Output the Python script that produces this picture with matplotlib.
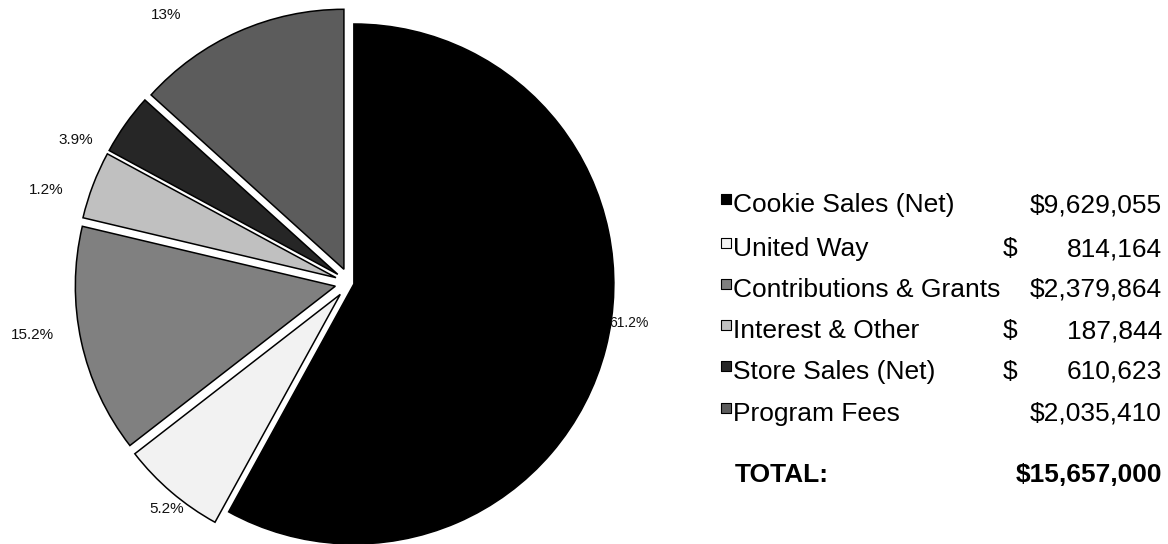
import matplotlib
matplotlib.use("Agg")
import matplotlib.pyplot as plt
import numpy as np

plt.rcParams['font.family'] = ['Liberation Sans', 'DejaVu Sans']

# ---- data ----
categories = ["Cookie Sales (Net)", "United Way", "Contributions & Grants",
              "Interest & Other", "Store Sales (Net)", "Program Fees"]
amount_labels = ["$9,629,055", "$   814,164", "$2,379,864", "$   187,844",
                 "$   610,623", "$2,035,410"]
# wedge shares as drawn in the picture (percent of circle)
wedge_shares = [58.0, 6.5, 14.2, 4.2, 3.8, 13.3]
pct_labels = ["61.2%", "5.2%", "15.2%", "1.2%", "3.9%", "13%"]
total_label = "$15,657,000"

# ---- style ----
colors = ["#000000", "#f2f2f2", "#808080", "#c0c0c0", "#262626", "#5c5c5c"]
# explode distances in pixels (pie explode is in data units)
explode_px = [4, 15, 15, 15, 15, 15]
# label placement tweaks: (angle offset deg, radius factor, ha, fontsize)
label_tweaks = [(5.7, 1.01, 'left', 10), (1.4, 1.118, 'center', 11),
                (-3.0, 1.238, 'center', 11), (3.9, 1.223, 'center', 11),
                (7.8, 1.188, 'center', 11), (10.5, 1.252, 'center', 11)]

W, H = 1168, 544
fig = plt.figure(figsize=(W / 100, H / 100), dpi=100)
ax = fig.add_axes([0, 0, 1, 1])


def P(x, y):
    return (x, H - y)


cx, cy, R = 350, 283, 260
center = P(cx, cy)
wedges, _ = ax.pie(wedge_shares, colors=colors, startangle=90, counterclock=False,
                   explode=explode_px, center=center, radius=R,
                   wedgeprops=dict(edgecolor='black', linewidth=1.1))

for w, lab, (doff, rf, ha, fs) in zip(wedges, pct_labels, label_tweaks):
    mid = np.deg2rad((w.theta1 + w.theta2) / 2 + doff)
    x = center[0] + rf * R * np.cos(mid)
    y = center[1] + rf * R * np.sin(mid)
    ax.text(x, y, lab, ha=ha, va='center', fontsize=fs, color='#111111')

# ---- legend table ----
row_y = [205, 249, 290, 331, 372, 414]
text_x = 733
amt_right = 1162
dollar_x = 1003
fs_leg = 19
for yy, name, amt, col in zip(row_y, categories, amount_labels, colors):
    ax.scatter(*P(text_x - 7, yy - 6), marker='s', s=55, c=col,
               edgecolors='black', linewidths=0.8, zorder=5)
    ax.text(*P(text_x, yy), name, ha='left', va='center', fontsize=fs_leg)
    if amt.startswith("$ "):
        ax.text(*P(dollar_x, yy), "$", ha='left', va='center', fontsize=fs_leg)
        ax.text(*P(amt_right, yy), amt.replace("$", "").strip(), ha='right',
                va='center', fontsize=fs_leg)
    else:
        ax.text(*P(amt_right, yy), amt, ha='right', va='center', fontsize=fs_leg)

ax.text(*P(text_x + 2, 475), "TOTAL:", ha='left', va='center', fontsize=fs_leg,
        fontweight='bold')
ax.text(*P(amt_right, 475), total_label, ha='right', va='center', fontsize=fs_leg,
        fontweight='bold')

ax.set_xlim(0, W)
ax.set_ylim(0, H)
ax.set_aspect('equal')
ax.axis('off')

fig.savefig("out.png", dpi=100, facecolor='white')
